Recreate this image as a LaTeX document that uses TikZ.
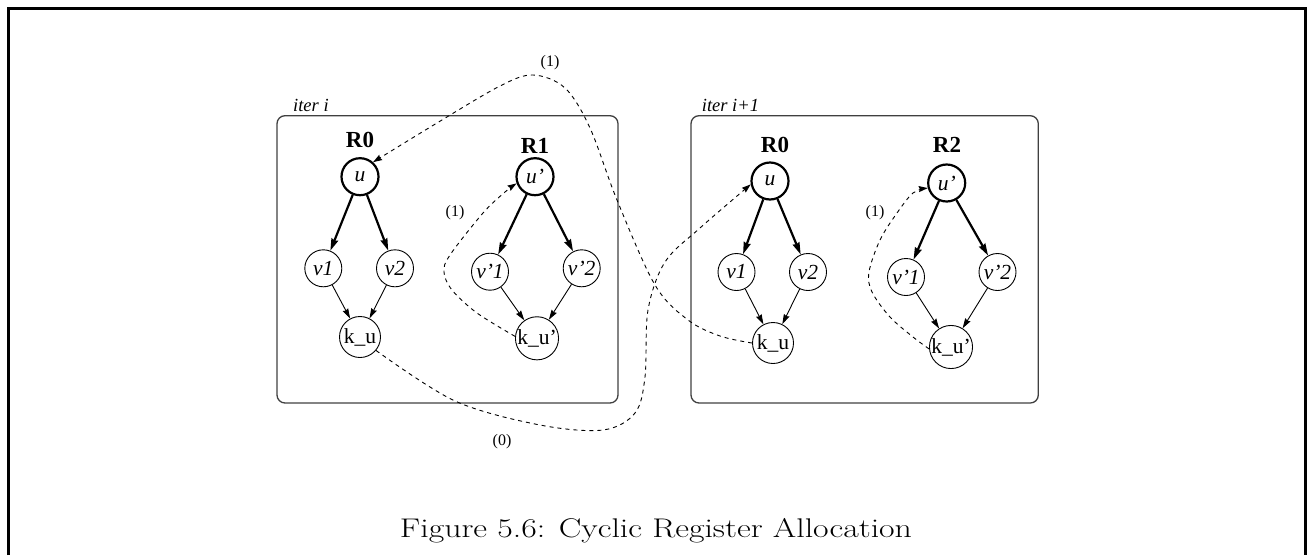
\documentclass[tikz,border=0pt]{standalone}
\usepackage{fontspec}
\newfontfamily\tms{Liberation Serif}
\usetikzlibrary{arrows.meta}
\tikzset{
  thk/.style={circle, draw, line width=2.2pt, minimum size=37pt, inner sep=0pt, font=\tms\itshape\fontsize{21.5}{23}\selectfont},
  thn/.style={circle, draw, line width=0.9pt, minimum size=37pt, inner sep=0pt, font=\tms\itshape\fontsize{21.5}{23}\selectfont},
  kn/.style={circle, draw, line width=0.9pt, minimum size=41pt, inner sep=0pt, font=\tms\fontsize{21.5}{23}\selectfont},
  bigarrow/.style={line width=2.2pt, -{Stealth[length=12pt,width=7pt,inset=1pt]}},
  smallarrow/.style={line width=0.9pt, -{Stealth[length=10pt,width=6pt,inset=1pt]}},
  dsh/.style={dash pattern=on 4pt off 4pt, line width=0.9pt, -{Stealth[length=9pt,width=6pt,inset=1pt]}},
  itlab/.style={anchor=west, inner sep=0pt, font=\tms\itshape\fontsize{18.5}{20}\selectfont},
  rlab/.style={inner sep=0pt, font=\tms\bfseries\fontsize{23}{25}\selectfont},
  elab/.style={inner sep=0pt, font=\tms\fontsize{16}{18}\selectfont},
  boxstyle/.style={draw=black!75, line width=1.3pt, rounded corners=8pt}
}
\begin{document}
\begin{tikzpicture}[x=1pt,y=-1pt]
\useasboundingbox (0,0) rectangle (1310,555);
% outer frame
\draw[line width=3pt] (8,555) -- (8,8.7) -- (1305.8,8.7) -- (1305.8,555);
% boxes
\draw[boxstyle] (277,115.7) rectangle (618,403);
\draw[boxstyle] (691,115.7) rectangle (1038.3,403);
\node[itlab] (iterA) at (293,105) {iter i};
\node[itlab] (iterB) at (701.7,105) {iter i+1};
% register labels
\node[rlab] (R0a) at (360,140) {R0};
\node[rlab] (R1a) at (535,146) {R1};
\node[rlab] (R0b) at (775,145) {R0};
\node[rlab] (R2b) at (947,145) {R2};
% left box nodes
\node[thk] (uA) at (360,176.7) {u};
\node[thn] (v1A) at (323.3,268.3) {v1};
\node[thn] (v2A) at (395,268.3) {v2};
\node[kn] (kuA) at (360,337) {k\_u};
\node[thk] (uA2) at (535,176.7) {u’};
\node[thn] (v1A2) at (490,271.7) {v’1};
\node[thn] (v2A2) at (581.7,268.3) {v’2};
\node[kn] (kuA2) at (537,338.3) {k\_u’};
% right box nodes
\node[thk] (uB) at (770,181) {u};
\node[thn] (v1B) at (736.5,272) {v1};
\node[thn] (v2B) at (808,272) {v2};
\node[kn] (kuB) at (773,343) {k\_u};
\node[thk] (uB2) at (946.7,183) {u’};
\node[thn] (v1B2) at (906,277) {v’1};
\node[thn] (v2B2) at (997.5,272) {v’2};
\node[kn] (kuB2) at (951,347) {k\_u’};
% solid edges
\foreach \u/\a/\b/\k in {uA/v1A/v2A/kuA, uA2/v1A2/v2A2/kuA2, uB/v1B/v2B/kuB, uB2/v1B2/v2B2/kuB2}{
  \draw[bigarrow] (\u) -- (\a);
  \draw[bigarrow] (\u) -- (\b);
  \draw[smallarrow] (\a) -- (\k);
  \draw[smallarrow] (\b) -- (\k);
}
% dashed edges
\draw[dsh] plot[smooth, tension=0.55] coordinates {(kuA.-40) (455,401) (540,425) (603,430) (635,413) (645,377) (648,310) (665,262) (700,228) (uB.190)};
\draw[dsh] plot[smooth, tension=0.55] coordinates {(kuB.180) (720,336) (688,320) (655,285) (617,200) (590,128) (565,88) (533,75) (500,86) (437,123) (uA.48)};
\draw[dsh] plot[smooth, tension=0.55] coordinates {(kuA2.175) (477,313) (452,290) (444,272) (450,255) (483,213) (505,192) (uA2.200)};
\draw[dsh] plot[smooth, tension=0.55] coordinates {(kuB2.185) (913,337) (890,317) (872,292) (869,272) (880,240) (897,213) (913,193) (uB2.195)};
% edge labels
\node[elab] (l1) at (455,213) {(1)};
\node[elab] (l2) at (875,213) {(1)};
\node[elab] (l3) at (550,63) {(1)};
\node[elab] (l0) at (502,442) {(0)};
% caption
\node[anchor=base, inner sep=0pt] (cap) at (656,537) {\resizebox{512pt}{\height}{\fontsize{27}{30}\selectfont Figure 5.6: Cyclic Register Allocation}};
\end{tikzpicture}
\end{document}
